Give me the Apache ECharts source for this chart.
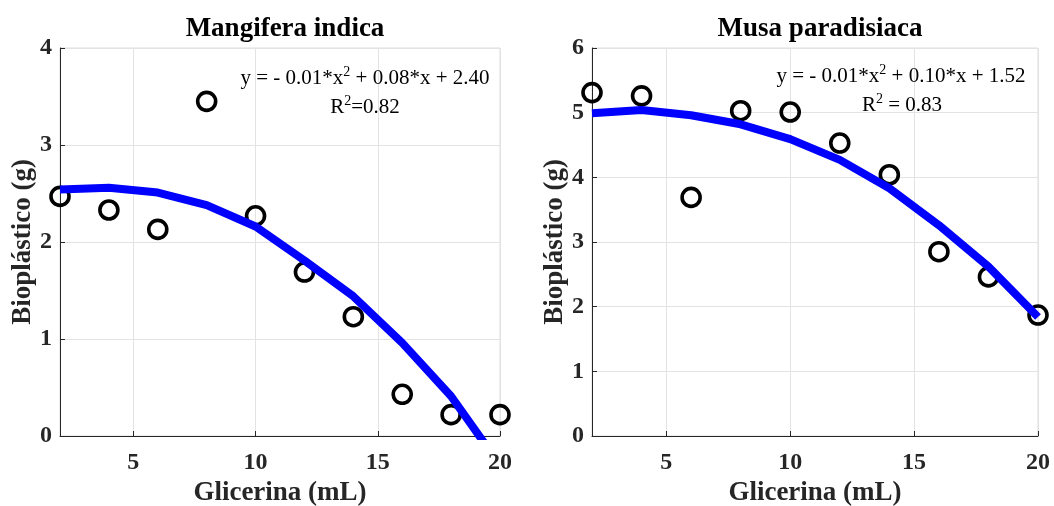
<!DOCTYPE html>
<html>
<head>
<meta charset="utf-8">
<script src="https://cdn.jsdelivr.net/npm/echarts@6/dist/echarts.min.js"></script>
<style>
html,body{margin:0;padding:0;background:#fff;}
#chart{width:1054px;height:506px;}
</style>
</head>
<body>
<div id="chart"></div>
<script>
// ---- data ----
const glicerina = [2, 4, 6, 8, 10, 12, 14, 16, 18, 20];
const mangiferaObs = [2.47, 2.33, 2.13, 3.45, 2.27, 1.69, 1.23, 0.43, 0.22, 0.22];
const mangiferaFit = [2.54, 2.56, 2.51, 2.38, 2.16, 1.81, 1.44, 0.96, 0.41, -0.30];
const musaObs = [5.31, 5.26, 3.69, 5.03, 5.01, 4.53, 4.04, 2.85, 2.46, 1.87];
const musaFit = [4.99, 5.04, 4.96, 4.82, 4.59, 4.27, 3.83, 3.26, 2.62, 1.84];
const titles = ['Mangifera indica', 'Musa paradisiaca'];
const xName = 'Glicerina (mL)';
const yName = 'Bioplástico (g)';
const eqLeft = ['y = - 0.01*x', '2', ' + 0.08*x + 2.40'];
const r2Left = ['R', '2', '=0.82'];
const eqRight = ['y = - 0.01*x', '2', ' + 0.10*x + 1.52'];
const r2Right = ['R', '2', ' = 0.83'];
const yMaxLeft = 4, yMaxRight = 6;

const pairs = (xs, ys) => xs.map((x, i) => [x, ys[i]]);
const FONT = '"Liberation Serif", "Times New Roman", serif';

const chart = echarts.init(document.getElementById('chart'), null, {renderer: 'canvas'});

const grids = [
  {left: 60, top: 48, width: 440, height: 388},
  {left: 592, top: 48, width: 446, height: 388}
];

function xAxis(idx) {
  return {
    type: 'value', gridIndex: idx, min: 2, max: 20, splitNumber: 4,
    name: xName, nameLocation: 'middle', nameGap: 43,
    nameTextStyle: {fontFamily: FONT, fontWeight: 'bold', fontSize: 27, color: '#262626'},
    axisLine: {show: true, onZero: false, lineStyle: {color: '#262626', width: 1}},
    axisTick: {show: true, inside: true, length: 5, lineStyle: {color: '#262626'}},
    axisLabel: {showMinLabel: false, margin: 15, fontFamily: FONT, fontWeight: 'bold', fontSize: 24, color: '#262626'},
    splitLine: {show: true, lineStyle: {color: '#e3e3e3', width: 1}}
  };
}
function yAxis(idx, max) {
  return {
    type: 'value', gridIndex: idx, min: 0, max: max, interval: 1,
    name: yName, nameLocation: 'middle', nameGap: 22,
    nameTextStyle: {fontFamily: FONT, fontWeight: 'bold', fontSize: 27, color: '#262626'},
    axisLine: {show: true, onZero: false, lineStyle: {color: '#262626', width: 1}},
    axisTick: {show: true, inside: true, length: 5, lineStyle: {color: '#262626'}},
    axisLabel: {margin: 8, fontFamily: FONT, fontWeight: 'bold', fontSize: 24, color: '#262626'},
    splitLine: {show: true, lineStyle: {color: '#e3e3e3', width: 1}}
  };
}

function scatter(idx, ys) {
  return {
    type: 'scatter', xAxisIndex: idx, yAxisIndex: idx, z: 2,
    data: pairs(glicerina, ys), symbol: 'circle', symbolSize: 18,
    itemStyle: {color: 'rgba(0,0,0,0)', borderColor: '#000', borderWidth: 3.6, opacity: 1},
    emphasis: {disabled: true}
  };
}
function fit(idx, ys) {
  return {
    type: 'line', xAxisIndex: idx, yAxisIndex: idx, z: 3, clip: true,
    data: pairs(glicerina, ys), showSymbol: false, symbol: 'none', smooth: false,
    lineStyle: {color: '#0000ff', width: 8, opacity: 1}
  };
}

const richStyles = {
  n: {fontFamily: FONT, fontSize: 21, color: '#1a1a1a', lineHeight: 24, verticalAlign: 'bottom'},
  s: {fontFamily: FONT, fontSize: 14, color: '#1a1a1a', lineHeight: 12, verticalAlign: 'top'}
};
function eqText(parts, x, y) {
  return {
    type: 'text', x: x, y: y, z: 100,
    style: {
      text: '{n|' + parts[0] + '}{s|' + parts[1] + '}{n|' + parts[2] + '}',
      rich: richStyles, align: 'center', verticalAlign: 'middle'
    }
  };
}

chart.setOption({
  animation: false,
  backgroundColor: '#ffffff',
  title: titles.map((t, i) => ({
    text: t,
    left: i === 0 ? 280 : 815,
    top: 11,
    textAlign: 'center',
    textStyle: {fontFamily: FONT, fontWeight: 'bold', fontSize: 27, color: '#000'}
  })),
  grid: grids.map(g => Object.assign({
    show: true, borderColor: '#dcdcdc', borderWidth: 1, backgroundColor: 'transparent',
    containLabel: false, outerBoundsMode: 'none'
  }, g)),
  xAxis: [xAxis(0), xAxis(1)],
  yAxis: [yAxis(0, yMaxLeft), yAxis(1, yMaxRight)],
  series: [
    scatter(0, mangiferaObs), fit(0, mangiferaFit),
    scatter(1, musaObs), fit(1, musaFit)
  ],
  graphic: [
    eqText(eqLeft, 365, 77),
    eqText(r2Left, 365, 106),
    eqText(eqRight, 901, 75),
    eqText(r2Right, 902, 104)
  ]
});
</script>
</body>
</html>
